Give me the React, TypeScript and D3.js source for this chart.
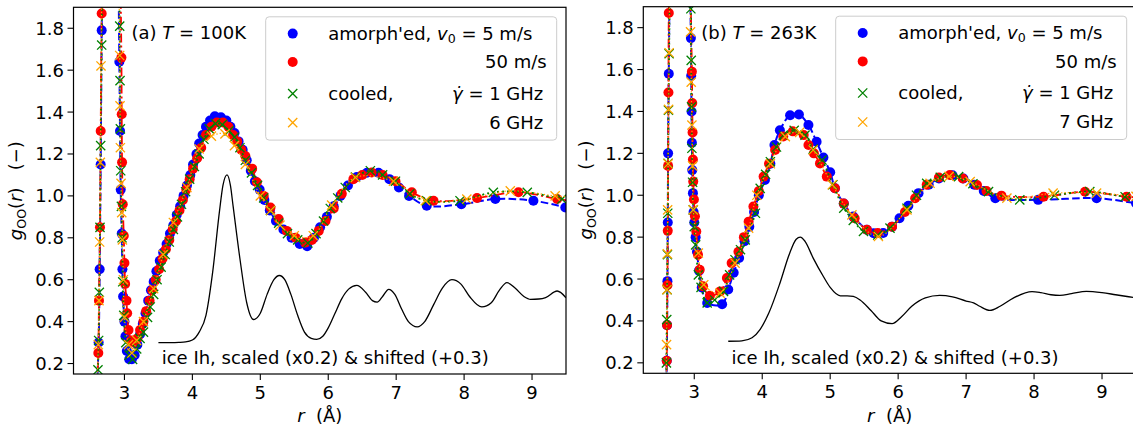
import React from 'react';
import * as d3 from 'd3';

type P = [number, number];

// ---------- data: panel (a) T = 100 K ----------
const blueA: P[] = [[2.585,0.0],[2.620,0.30],[2.635,0.65],[2.650,1.15],[2.665,1.79],[2.72,3.6],[2.79,4.6],[2.86,3.6],[2.925,1.64],[2.935,1.31],[2.945,1.03],[2.960,0.82],[2.970,0.65],[2.980,0.52],[3.000,0.40],[3.015,0.33],[3.035,0.26],[3.070,0.22],[3.110,0.22],[3.150,0.24],[3.190,0.29],[3.230,0.34],[3.270,0.39],[3.310,0.44],[3.350,0.50],[3.390,0.55],[3.430,0.59],[3.470,0.64],[3.520,0.69],[3.570,0.73],[3.620,0.77],[3.670,0.82],[3.720,0.86],[3.770,0.91],[3.820,0.95],[3.870,1.00],[3.920,1.05],[3.970,1.10],[4.010,1.15],[4.060,1.20],[4.100,1.25],[4.150,1.29],[4.200,1.33],[4.260,1.36],[4.330,1.38],[4.420,1.375],[4.500,1.36],[4.560,1.33],[4.620,1.30],[4.680,1.26],[4.740,1.22],[4.800,1.17],[4.860,1.12],[4.920,1.07],[4.990,1.03],[5.060,0.98],[5.140,0.93],[5.230,0.88],[5.340,0.84],[5.460,0.80],[5.580,0.77],[5.690,0.76],[5.790,0.80],[5.880,0.85],[5.980,0.90],[6.080,0.95],[6.180,1.00],[6.290,1.05],[6.420,1.09],[6.570,1.11],[6.740,1.11],[6.900,1.08],[7.040,1.04],[7.190,1.00],[7.450,0.953],[7.960,0.960],[8.460,0.985],[9.020,0.977],[9.490,0.945],[9.600,0.935]];
const redA: P[] = [[2.585,0.0],[2.615,0.25],[2.625,0.50],[2.640,0.85],[2.650,1.31],[2.665,1.87],[2.72,3.7],[2.79,4.7],[2.87,3.7],[2.955,1.66],[2.960,1.39],[2.965,1.16],[2.975,0.96],[2.990,0.81],[3.000,0.68],[3.010,0.58],[3.030,0.50],[3.040,0.44],[3.060,0.36],[3.100,0.31],[3.140,0.30],[3.190,0.32],[3.230,0.36],[3.280,0.40],[3.320,0.45],[3.370,0.50],[3.410,0.55],[3.460,0.60],[3.510,0.65],[3.560,0.70],[3.610,0.745],[3.660,0.79],[3.710,0.84],[3.760,0.88],[3.810,0.93],[3.860,0.98],[3.910,1.03],[3.960,1.08],[4.010,1.13],[4.070,1.18],[4.130,1.23],[4.200,1.29],[4.280,1.33],[4.360,1.35],[4.450,1.35],[4.530,1.33],[4.600,1.29],[4.660,1.26],[4.720,1.22],[4.780,1.19],[4.880,1.13],[4.950,1.065],[5.050,1.00],[5.150,0.945],[5.270,0.89],[5.390,0.833],[5.520,0.80],[5.660,0.777],[5.760,0.79],[5.860,0.833],[5.960,0.88],[6.080,0.94],[6.200,1.01],[6.370,1.08],[6.500,1.10],[6.640,1.112],[6.800,1.10],[6.990,1.07],[7.230,1.017],[7.550,0.977],[8.190,0.990],[8.800,1.017],[9.370,0.985],[9.600,0.975]];
const greenA: P[] = [[2.585,0.0],[2.610,0.17],[2.620,0.31],[2.630,0.54],[2.640,0.85],[2.650,1.24],[2.665,1.72],[2.72,3.7],[2.79,4.7],[2.86,3.7],[2.930,1.81],[2.935,1.55],[2.940,1.32],[2.945,1.12],[2.955,0.95],[2.965,0.80],[2.975,0.59],[2.990,0.43],[3.020,0.30],[3.070,0.24],[3.120,0.22],[3.180,0.27],[3.230,0.32],[3.280,0.35],[3.340,0.42],[3.380,0.47],[3.430,0.53],[3.480,0.60],[3.540,0.66],[3.600,0.72],[3.660,0.78],[3.720,0.84],[3.780,0.90],[3.840,0.96],[3.900,1.02],[3.960,1.08],[4.030,1.14],[4.100,1.20],[4.170,1.27],[4.250,1.32],[4.340,1.345],[4.440,1.34],[4.540,1.31],[4.620,1.28],[4.700,1.23],[4.780,1.17],[4.870,1.11],[4.960,1.05],[5.050,0.99],[5.150,0.93],[5.270,0.87],[5.400,0.82],[5.550,0.79],[5.700,0.775],[5.820,0.82],[5.930,0.88],[6.030,0.94],[6.140,0.99],[6.250,1.04],[6.400,1.09],[6.620,1.12],[6.800,1.10],[6.990,1.07],[7.200,1.01],[7.450,0.977],[7.940,0.977],[8.430,1.017],[8.930,1.017],[9.440,0.985],[9.600,0.98]];
const orangeA: P[] = [[2.585,0.0],[2.615,0.29],[2.625,0.50],[2.635,0.78],[2.645,1.16],[2.655,1.62],[2.72,3.6],[2.79,4.6],[2.86,3.6],[2.930,1.67],[2.935,1.43],[2.940,1.23],[2.950,1.06],[2.960,0.92],[2.970,0.79],[2.985,0.60],[3.000,0.42],[3.060,0.29],[3.110,0.25],[3.180,0.31],[3.280,0.40],[3.430,0.557],[3.570,0.72],[3.720,0.873],[3.920,1.04],[4.100,1.224],[4.280,1.285],[4.480,1.296],[4.620,1.24],[4.780,1.15],[5.000,1.00],[5.150,0.93],[5.290,0.86],[5.500,0.81],[5.780,0.81],[6.050,0.956],[6.400,1.088],[6.960,1.07],[7.430,0.977],[8.040,0.985],[8.680,1.024],[9.340,1.00],[9.600,0.995]];
const iceA: P[] = [[3.50,0.300],[3.60,0.300],[3.70,0.300],[3.80,0.301],[3.90,0.303],[4.00,0.312],[4.10,0.35],[4.20,0.43],[4.30,0.64],[4.40,0.93],[4.45,1.05],[4.51,1.10],[4.56,1.05],[4.60,0.95],[4.70,0.70],[4.80,0.49],[4.90,0.41],[5.00,0.44],[5.10,0.53],[5.20,0.60],[5.28,0.62],[5.36,0.60],[5.45,0.53],[5.55,0.43],[5.65,0.35],[5.75,0.32],[5.83,0.315],[5.92,0.33],[6.00,0.37],[6.10,0.44],[6.20,0.51],[6.30,0.555],[6.42,0.573],[6.55,0.54],[6.65,0.50],[6.72,0.493],[6.80,0.52],[6.89,0.554],[6.98,0.53],[7.08,0.46],[7.18,0.40],[7.31,0.375],[7.42,0.40],[7.55,0.48],[7.68,0.56],[7.82,0.60],[7.95,0.58],[8.08,0.52],[8.26,0.47],[8.40,0.49],[8.52,0.55],[8.63,0.586],[8.75,0.56],[8.88,0.52],[8.98,0.506],[9.10,0.508],[9.20,0.515],[9.37,0.546],[9.50,0.514]];

// ---------- data: panel (b) T = 263 K ----------
const blueB: P[] = [[2.585,0.0],[2.595,0.21],[2.600,0.38],[2.605,0.59],[2.610,0.87],[2.615,1.20],[2.625,1.58],[2.68,3.3],[2.76,4.3],[2.86,3.3],[2.950,1.75],[2.955,1.57],[2.960,1.40],[2.965,1.25],[2.970,1.12],[2.980,1.01],[2.990,0.92],[3.000,0.87],[3.020,0.80],[3.040,0.73],[3.070,0.64],[3.110,0.56],[3.190,0.486],[3.410,0.48],[3.500,0.55],[3.580,0.63],[3.660,0.70],[3.740,0.78],[3.810,0.85],[3.880,0.92],[3.950,1.00],[4.040,1.073],[4.120,1.15],[4.180,1.24],[4.260,1.31],[4.410,1.382],[4.540,1.385],[4.680,1.335],[4.800,1.255],[4.900,1.18],[5.000,1.11],[5.070,1.033],[5.200,0.96],[5.340,0.898],[5.540,0.835],[5.640,0.819],[5.780,0.82],[5.910,0.85],[6.020,0.89],[6.150,0.95],[6.300,1.01],[6.450,1.05],[6.600,1.08],[6.800,1.095],[6.960,1.08],[7.120,1.05],[7.260,1.02],[7.430,0.986],[8.060,0.978],[8.920,0.986],[9.500,0.962],[9.600,0.958]];
const redB: P[] = [[2.585,0.0],[2.595,0.21],[2.600,0.38],[2.605,0.57],[2.610,0.83],[2.615,1.14],[2.620,1.49],[2.625,1.87],[2.68,3.3],[2.76,4.3],[2.86,3.3],[2.965,1.59],[2.970,1.44],[2.975,1.30],[2.980,1.17],[2.985,1.065],[2.995,0.98],[3.010,0.90],[3.030,0.827],[3.055,0.716],[3.080,0.644],[3.130,0.565],[3.230,0.52],[3.380,0.541],[3.480,0.605],[3.550,0.676],[3.650,0.73],[3.730,0.80],[3.800,0.874],[3.870,0.946],[3.950,1.02],[4.020,1.089],[4.100,1.15],[4.190,1.216],[4.310,1.28],[4.450,1.305],[4.610,1.287],[4.680,1.24],[4.760,1.20],[4.850,1.152],[4.950,1.089],[5.070,1.033],[5.200,0.96],[5.360,0.89],[5.540,0.835],[5.700,0.82],[5.910,0.85],[6.100,0.92],[6.250,0.986],[6.420,1.05],[6.600,1.085],[6.760,1.097],[6.950,1.08],[7.160,1.049],[7.300,1.02],[7.520,0.998],[8.140,0.993],[8.750,1.017],[9.360,0.993],[9.600,0.99]];
const greenB: P[] = [[2.585,0.0],[2.590,0.20],[2.595,0.406],[2.600,0.549],[2.605,0.716],[2.610,0.914],[2.615,1.152],[2.620,1.406],[2.630,1.676],[2.68,3.3],[2.76,4.3],[2.86,3.3],[2.950,1.89],[2.955,1.644],[2.960,1.422],[2.965,1.224],[2.975,1.062],[2.985,0.93],[3.000,0.85],[3.020,0.763],[3.060,0.62],[3.100,0.56],[3.190,0.486],[3.300,0.50],[3.430,0.541],[3.520,0.62],[3.600,0.692],[3.680,0.74],[3.750,0.787],[3.900,0.914],[3.970,1.033],[4.050,1.10],[4.120,1.16],[4.210,1.23],[4.310,1.287],[4.470,1.31],[4.630,1.287],[4.750,1.22],[4.880,1.168],[5.040,1.05],[5.200,0.938],[5.340,0.88],[5.490,0.827],[5.700,0.81],[5.880,0.843],[6.130,0.938],[6.270,1.00],[6.420,1.057],[6.620,1.085],[6.890,1.089],[7.100,1.055],[7.330,1.017],[7.790,0.978],[8.300,1.00],[8.820,1.017],[9.340,0.993],[9.600,0.99]];
const orangeB: P[] = [[2.585,0.0],[2.592,0.287],[2.598,0.549],[2.603,0.72],[2.608,0.93],[2.615,1.15],[2.622,1.41],[2.630,1.68],[2.68,3.3],[2.76,4.3],[2.86,3.3],[2.945,1.78],[2.955,1.54],[2.965,1.335],[2.975,1.14],[2.985,0.93],[3.060,0.724],[3.140,0.573],[3.380,0.533],[3.600,0.676],[3.800,0.843],[3.920,1.00],[4.120,1.15],[4.340,1.28],[4.550,1.30],[4.750,1.216],[5.030,1.05],[5.320,0.906],[5.710,0.803],[6.130,0.93],[6.470,1.057],[6.750,1.09],[7.060,1.065],[7.600,0.986],[8.280,1.01],[8.920,1.01],[9.500,0.995],[9.600,0.993]];
const iceB: P[] = [[3.50,0.303],[3.70,0.305],[3.85,0.32],[3.97,0.36],[4.10,0.44],[4.26,0.58],[4.40,0.72],[4.50,0.79],[4.56,0.80],[4.63,0.78],[4.75,0.70],[4.90,0.612],[5.00,0.56],[5.15,0.52],[5.25,0.52],[5.34,0.517],[5.44,0.50],[5.60,0.45],[5.75,0.40],[5.91,0.387],[6.05,0.42],[6.20,0.47],[6.40,0.51],[6.61,0.522],[6.80,0.515],[7.00,0.495],[7.11,0.486],[7.20,0.47],[7.35,0.45],[7.50,0.47],[7.70,0.51],[7.97,0.54],[8.10,0.535],[8.25,0.525],[8.38,0.522],[8.55,0.53],[8.77,0.541],[9.00,0.535],[9.20,0.525],[9.50,0.51]];

const xTicks = [3, 4, 5, 6, 7, 8, 9];
const yTicks = [0.2, 0.4, 0.6, 0.8, 1.0, 1.2, 1.4, 1.6, 1.8];
const xDomain: [number, number] = [2.25, 9.5];
const yDomain: [number, number] = [0.15, 1.9];

const labelsA = ['5 m/s', '50 m/s', '1 GHz', '6 GHz'];
const labelsB = ['5 m/s', '50 m/s', '1 GHz', '7 GHz'];
const titleA = ['(a)', '100K'];
const titleB = ['(b)', '263K'];
const iceLabel = 'ice Ih, scaled (x0.2) & shifted (+0.3)';

const FONT = 'DejaVu Sans';
const FS = 18;

type Style = { color: string; marker: 'o' | 'x'; dash: string; lw: number };
const styles: Style[] = [
  { color: '#0000ff', marker: 'o', dash: '7.5,3.3', lw: 2 },
  { color: '#ff0000', marker: 'o', dash: '9,3,2,3', lw: 1.8 },
  { color: '#008000', marker: 'x', dash: '2,3', lw: 1.8 },
  { color: '#ffa500', marker: 'x', dash: '1.3,2', lw: 1.2 },
];

function Marker({ x, y, s }: { x: number; y: number; s: Style }) {
  if (s.marker === 'o') return <circle cx={x} cy={y} r={5} fill={s.color} />;
  const h = 4.6;
  return (
    <path d={`M${x - h},${y - h}L${x + h},${y + h}M${x - h},${y + h}L${x + h},${y - h}`} stroke={s.color} strokeWidth={1.3} fill="none" />
  );
}

function Panel(props: { id: string; left: number; right: number; top: number; bottom: number; series: P[][]; ice: P[]; labels: string[]; title: string[] }) {
  const { id, left, right, top, bottom, series, ice, labels, title } = props;
  const x = d3.scaleLinear().domain(xDomain).range([left, right]);
  const y = d3.scaleLinear().domain(yDomain).range([bottom, top]);
  const line = d3.line<P>().x((d) => x(d[0])).y((d) => y(d[1])).curve(d3.curveCatmullRom.alpha(0.5));
  const iceLine = d3.line<P>().x((d) => x(d[0])).y((d) => y(d[1])).curve(d3.curveMonotoneX);
  const cy = (top + bottom) / 2;
  const cx = (left + right) / 2;
  const rowY = [top + 26.3, top + 54.7, top + 86.3, top + 115.3];
  const mX = right - 273.3;
  const tX = right - 237.7;
  return (
    <g fontFamily={FONT} fontSize={FS} fill="#000">
      <defs>
        <clipPath id={`clip-${id}`}>
          <rect x={left} y={top} width={right - left} height={bottom - top} />
        </clipPath>
      </defs>
      {/* ice Ih reference */}
      <path d={iceLine(ice) || ''} fill="none" stroke="#000" strokeWidth={1.3} clipPath={`url(#clip-${id})`} />
      <text x={left + 88.2} y={363.5}>{iceLabel}</text>
      {/* data series */}
      <g clipPath={`url(#clip-${id})`}>
        {series.map((data, i) => (
          <g key={i}>
            <path d={line(data) || ''} fill="none" stroke={styles[i].color} strokeWidth={styles[i].lw} strokeDasharray={styles[i].dash} />
            {data.map((d, j) => (
              <Marker key={j} x={x(d[0])} y={y(d[1])} s={styles[i]} />
            ))}
          </g>
        ))}
      </g>
      {/* axes frame */}
      <rect x={left} y={top} width={right - left} height={bottom - top} fill="none" stroke="#000" strokeWidth={1.2} />
      {xTicks.map((t) => (
        <g key={t}>
          <line x1={x(t)} x2={x(t)} y1={bottom} y2={bottom + 6} stroke="#000" strokeWidth={1.1} />
          <text x={x(t)} y={bottom + 24.5} textAnchor="middle">{t}</text>
        </g>
      ))}
      {yTicks.map((t) => (
        <g key={t}>
          <line x1={left - 6} x2={left} y1={y(t)} y2={y(t)} stroke="#000" strokeWidth={1.1} />
          <text x={left - 9.5} y={y(t) + 6.5} textAnchor="end">{t.toFixed(1)}</text>
        </g>
      ))}
      {/* axis labels */}
      <text x={cx} y={422} textAnchor="middle">
        <tspan fontStyle="italic">r</tspan>
        <tspan>{'\u00a0\u00a0(Å)'}</tspan>
      </text>
      <text transform={`translate(${left - 51.5},${cy}) rotate(-90)`} textAnchor="middle">
        <tspan fontStyle="italic">g</tspan>
        <tspan fontSize={12.6} dy={4}>OO</tspan>
        <tspan dy={-4}>(</tspan>
        <tspan fontStyle="italic">r</tspan>
        <tspan>{')\u00a0\u00a0\u00a0(\u2212)'}</tspan>
      </text>
      {/* panel title */}
      <text x={left + 58} y={39.3}>
        <tspan>{title[0] + '\u00a0'}</tspan>
        <tspan fontStyle="italic">T</tspan>
        <tspan>{'\u00a0=\u00a0' + title[1]}</tspan>
      </text>
      {/* legend */}
      <rect x={right - 300.3} y={top + 9.5} width={291} height={123.3} rx={3.5} fill="#fff" fillOpacity={0.8} stroke="#cccccc" strokeWidth={1} />
      {[0, 1, 2, 3].map((i) => (
        <Marker key={i} x={mX} y={rowY[i]} s={styles[i]} />
      ))}
      <text x={tX} y={rowY[0] + 6.2}>
        <tspan>{"amorph'ed,\u00a0"}</tspan>
        <tspan fontStyle="italic">v</tspan>
        <tspan fontSize={12.6} dy={3}>0</tspan>
        <tspan dy={-3}>{'\u00a0=\u00a0' + labels[0]}</tspan>
      </text>
      <text x={right - 19.3} y={rowY[1] + 6.2} textAnchor="end">{labels[1]}</text>
      <text x={tX} y={rowY[2] + 6.2}>cooled,</text>
      <text x={right - 22.7} y={rowY[2] + 6.2} textAnchor="end">
        <tspan fontStyle="italic">{'\u03b3\u0307'}</tspan>
        <tspan>{'\u00a0=\u00a0' + labels[2]}</tspan>
      </text>
      <text x={right - 22.7} y={rowY[3] + 6.2} textAnchor="end">{labels[3]}</text>
    </g>
  );
}

export default function App() {
  return (
    <svg width={1133} height={430} style={{ position: 'absolute', left: 0, top: 0, background: '#fff' }}>
      <rect x={0} y={0} width={1133} height={430} fill="#fff" />
      <Panel id="a" left={73.5} right={566} top={7.3} bottom={374} series={[blueA, redA, greenA, orangeA]} ice={iceA} labels={labelsA} title={titleA} />
      <Panel id="b" left={643.3} right={1136} top={6.7} bottom={373.3} series={[blueB, redB, greenB, orangeB]} ice={iceB} labels={labelsB} title={titleB} />
    </svg>
  );
}
